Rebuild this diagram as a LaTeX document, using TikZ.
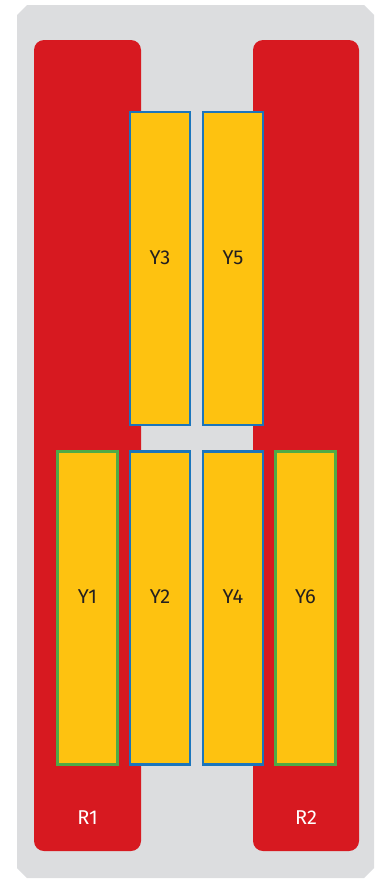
\documentclass[tikz,border=0pt]{standalone}
\usepackage{fontspec}
\setmainfont{Fira Sans}
\definecolor{bggray}{HTML}{DCDDDF}
\definecolor{barred}{HTML}{D71920}
\definecolor{boxyellow}{HTML}{FEC210}
\definecolor{edgeblue}{HTML}{1B75BC}
\definecolor{edgegreen}{HTML}{4FAA47}
\definecolor{textdark}{HTML}{231F20}
\tikzset{
    redbar/.style={fill=barred, rounded corners=10pt, minimum width=107pt, minimum height=811pt, inner sep=0pt, outer sep=0pt},
    ybox/.style={fill=boxyellow, line width=2.4pt, minimum width=60pt, minimum height=313pt, inner sep=0pt, outer sep=0pt},
    tag/.style={font=\fontsize{20}{24}\selectfont, inner sep=0pt}
}
\begin{document}
\begin{tikzpicture}[x=1pt, y=-1pt]
        \useasboundingbox (0,0) rectangle (379,881);
        % background plate
        \fill[bggray] (27,5) -- (364,5) -- (374,15) -- (374,868) -- (364,878) -- (27,878) -- (17,868) -- (17,15) -- cycle;
        % red bars
        \node[redbar] (r1) at (87.5,445.5) {};
        \node[redbar, minimum width=106pt] (r2) at (306,445.5) {};
        \node[tag, text=white] (r1label) at ([yshift=33pt]r1.south) {R1};
        \node[tag, text=white] (r2label) at ([yshift=33pt]r2.south) {R2};
        % upper row
        \node[ybox, draw=edgeblue] (y3) at (160,268.5) {};
        \node[ybox, draw=edgeblue] (y5) at (233,268.5) {};
        % lower row
        \node[ybox, draw=edgegreen] (y1) at (87.5,608) {};
        \node[ybox, draw=edgeblue] (y2) at (160,608) {};
        \node[ybox, draw=edgeblue] (y4) at (233,608) {};
        \node[ybox, draw=edgegreen] (y6) at (305.5,608) {};
        % labels
        \foreach \b/\t in {y3/Y3, y5/Y5, y1/Y1, y2/Y2, y4/Y4, y6/Y6}
            \node[tag, text=textdark] (\b label) at ([yshift=11pt]\b.center) {\t};
    \end{tikzpicture}
\end{document}
